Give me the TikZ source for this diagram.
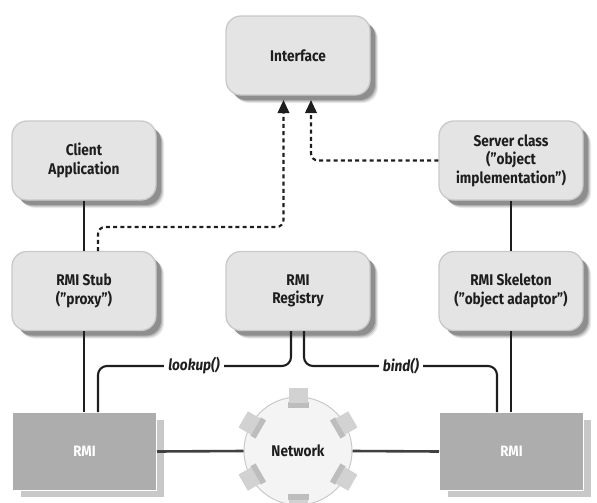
\documentclass[tikz,border=0pt]{standalone}
\usepackage{fontspec}
\setmainfont{Fira Sans}[FakeStretch=0.88,BoldFont={Fira Sans Bold},ItalicFont={Fira Sans Italic},BoldItalicFont={Fira Sans Bold Italic}]
\usetikzlibrary{arrows.meta,shadows,positioning}
\definecolor{boxfill}{HTML}{E4E4E4}
\definecolor{boxedge}{HTML}{C9C9C9}
\definecolor{rmifill}{HTML}{ADADAD}
\definecolor{rmishadow}{HTML}{C8C8C8}
\definecolor{ink}{HTML}{1E1E1E}
\definecolor{netfill}{HTML}{F4F4F4}
\definecolor{scr}{HTML}{D2D2D2}
\definecolor{scrbase}{HTML}{BDBDBD}
\tikzset{
  softshadow/.style={
    general shadow={shadow xshift=8pt,shadow yshift=-8pt,fill=black,opacity=.08,draw=none},
    general shadow={shadow xshift=7pt,shadow yshift=-7pt,fill=black,opacity=.11,draw=none},
    general shadow={shadow xshift=6pt,shadow yshift=-6pt,fill=black,opacity=.15,draw=none},
    general shadow={shadow xshift=5pt,shadow yshift=-5pt,fill=black,opacity=.2,draw=none}},
  bx/.style={softshadow,rounded corners=15pt,draw=boxedge,line width=1.3pt,fill=boxfill,
    minimum width=144pt,minimum height=79pt,inner sep=0pt,align=center,text=ink,
    font=\fontsize{15.5}{18.5}\selectfont\bfseries},
  rmibox/.style={general shadow={shadow xshift=8pt,shadow yshift=-7pt,fill=rmishadow,draw=white,line width=.8pt},
    draw=white,line width=1pt,fill=rmifill,minimum width=144pt,minimum height=78pt,inner sep=0pt,
    text=white,font=\fontsize{15}{16}\selectfont\bfseries},
  solidline/.style={draw=ink,line width=2.1pt,rounded corners=9pt},
  netline/.style={draw=black!75,line width=2.6pt},
  dashline/.style={draw=ink,line width=2.1pt,dash pattern=on 4pt off 3.2pt,rounded corners=7pt,
    -{Triangle[length=13pt,width=11.5pt]}},
  calllabel/.style={fill=white,inner xsep=4pt,inner ysep=1pt,text=ink,
    font=\fontsize{15.5}{16}\selectfont\bfseries\itshape}
}
\begin{document}
\begin{tikzpicture}[x=1pt,y=-1pt]
\useasboundingbox (0,0) rectangle (597,503);
% boxes
\node[bx] (iface)  at (298,55.5)  {Interface};
\node[bx] (client) at (84,160.5)  {Client\\Application};
\node[bx] (server) at (511,160.5) {Server class\\(”object\\implementation”)};
\node[bx] (stub)   at (84,291)    {RMI Stub\\(”proxy”)};
\node[bx] (reg)    at (298,291)   {RMI\\Registry};
\node[bx] (skel)   at (511,291) {RMI Skeleton\\(”object adaptor”)};
\node[rmibox] (rmil) at (84.5,451.5)  {RMI};
\node[rmibox] (rmir) at (511.5,451.5) {RMI};
% network
\node[circle,draw=boxedge,line width=1pt,fill=netfill,minimum size=108pt,inner sep=0pt,text=ink,
  font=\fontsize{15.5}{16}\selectfont\bfseries] (net) at (298,451) {Network};
\foreach \a in {0,60,120,180,240,300}{
  \begin{scope}[shift={(298,451)},rotate=\a]
    \fill[scrbase] (-10.5,-49) rectangle (10.5,-43);
    \fill[scr,draw=scrbase!70!white,line width=.5pt] (-9,-63) rectangle (9,-49);
  \end{scope}
}
% solid connectors
\draw[solidline] (client.south) -- (stub.north);
\draw[solidline] (server.south) -- (skel.north);
\draw[solidline] (stub.south) -- (stub.south |- rmil.north);
\draw[solidline] (skel.south) -- (skel.south |- rmir.north);
\draw[netline] (rmil.east) -- (net.west);
\draw[netline] (net.east) -- (rmir.west);
% call connectors
\coordinate (lkstart) at (98,412);
\coordinate (lkend) at (291,331);
\coordinate (bdstart) at (304,331);
\coordinate (bdend) at (497,412);
\draw[solidline] (lkstart) |- (200,366) -| (lkend);
\draw[solidline] (bdstart) |- (400,366) -| (bdend);
\node[calllabel] (lookup) at (194,366) {lookup()};
\node[calllabel] (bind) at (401,366) {bind()};
% dashed connectors
\coordinate (stubout) at (98,251);
\coordinate (ifl) at (283.5,100);
\coordinate (ifr) at (311,100);
\draw[dashline] (stubout) |- (190,227) -| (ifl);
\draw[dashline] (server.west) -| (ifr);
\end{tikzpicture}
\end{document}
